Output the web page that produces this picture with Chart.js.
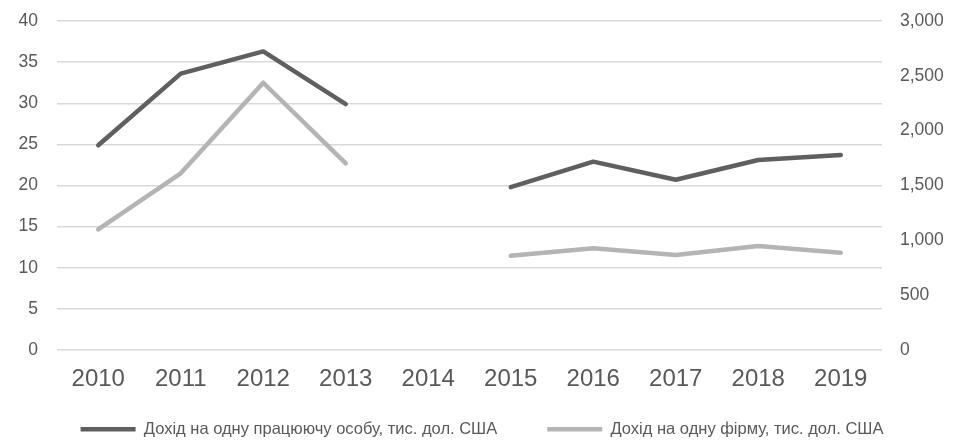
<!DOCTYPE html>
<html>
<head>
<meta charset="utf-8">
<script src="https://cdn.jsdelivr.net/npm/chart.js@4"></script>
<style>
  html, body { margin: 0; padding: 0; background: #fff; }
  #wrap { width: 964px; height: 441px; }
</style>
</head>
<body>
<div id="wrap"><canvas id="chart" width="964" height="441"></canvas></div>
<script>
var years = ["2010", "2011", "2012", "2013", "2014", "2015", "2016", "2017", "2018", "2019"]
// тис. дол. США, ліва вісь
var perWorker = [24.9, 33.6, 36.3, 29.9, null, 19.8, 22.9, 20.7, 23.1, 23.7]
// тис. дол. США, права вісь
var perFirm = [1100, 1611, 2437, 1702, null, 860, 927, 866, 948, 887]
var leftTicks = { min: 0, max: 40, step: 5 }
var rightTicks = { min: 0, max: 3000, step: 500 }

var textColor = "#595959"
var gridColor = "#d9d9d9"
Chart.defaults.font.family = "'Liberation Sans', Arial, sans-serif"
Chart.defaults.color = textColor

// ticks.padding інакше додається зверху над графіком
const fixY = (w) => (s) => {
    s.width = w
    s.paddingTop = 0
    s.paddingBottom = 0
}

// великий padding легенди потрібен для відстані між елементами, тож піднімаємо її верх
const legendShift = {
    id: "legendShift",
    afterLayout(chart) {
        chart.legend.top -= 20
    }
}

var ctx = document.getElementById("chart").getContext("2d")
var chart = new Chart(ctx, {
    type: "line",
    data: {
        labels: years,
        datasets: [
        {
            label: "Дохід на одну працюючу особу, тис. дол. США",
            data: perWorker,
            borderColor: "#5f5f5f",
            backgroundColor: "#5f5f5f",
            borderWidth: 4.5,
            borderCapStyle: "round",
            borderJoinStyle: "round",
            pointRadius: 0,
            yAxisID: "y"
        },
        {
            label: "Дохід на одну фірму, тис. дол. США",
            data: perFirm,
            borderColor: "#b4b4b4",
            backgroundColor: "#b4b4b4",
            borderWidth: 4.5,
            borderCapStyle: "round",
            borderJoinStyle: "round",
            pointRadius: 0,
            yAxisID: "y1"
        }]
    },
    options: {
        responsive: false,
        animation: false,
        spanGaps: false,
        layout: { padding: { top: 21, left: 0, right: 0, bottom: 0 } },
        plugins: {
            tooltip: { enabled: false },
            legend: {
                position: "bottom",
                maxHeight: 50,
                labels: {
                    usePointStyle: true,
                    pointStyle: "line",
                    pointStyleWidth: 55,
                    boxHeight: 16.5,
                    padding: 50,
                    color: textColor,
                    font: { size: 16.5 }
                }
            }
        },
        scales: {
            x: {
                offset: true,
                grid: { display: false },
                border: { display: false },
                ticks: { color: textColor, font: { size: 24 }, padding: 7, maxRotation: 0 },
                afterFit: (s) => { s.height = 41 }
            },
            y: {
                position: "left",
                min: leftTicks.min,
                max: leftTicks.max,
                grid: { color: gridColor, lineWidth: 1.5, drawTicks: false },
                border: { display: false },
                ticks: { stepSize: leftTicks.step, color: textColor, font: { size: 17.5 }, padding: 19 },
                afterFit: fixY(57)
            },
            y1: {
                position: "right",
                min: rightTicks.min,
                max: rightTicks.max,
                grid: { display: false, drawTicks: false },
                border: { display: false },
                ticks: { stepSize: rightTicks.step, color: textColor, font: { size: 17.5 }, padding: 18 },
                afterFit: fixY(82)
            }
        }
    },
    plugins: [legendShift]
})
</script>
</body>
</html>
